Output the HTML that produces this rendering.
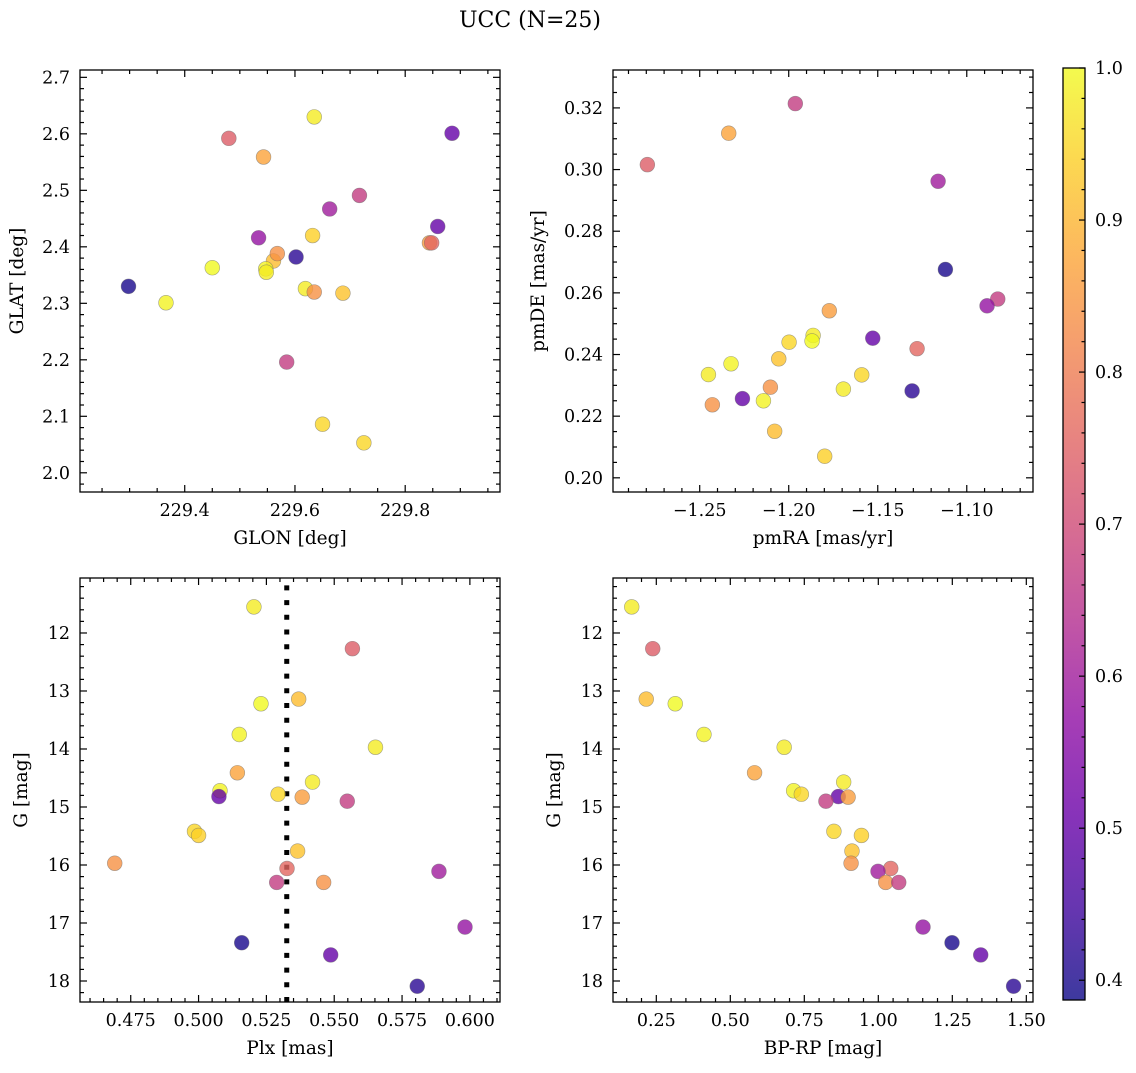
<!DOCTYPE html>
<html><head><meta charset="utf-8"><style>
html,body{margin:0;padding:0;background:#fff;}
svg text{font-family:"DejaVu Serif","Liberation Serif",serif;fill:#000;}
</style></head><body>
<svg id="fig" width="1136" height="1068" viewBox="0 0 1136 1068" xmlns="http://www.w3.org/2000/svg">
<defs>
<linearGradient id="cbgrad" x1="0" y1="1" x2="0" y2="0"></linearGradient>
</defs>
<text x="530" y="27" font-size="22" text-anchor="middle">UCC (N=25)</text>
</svg>
<script>
// ---- data (25 stars) ----
const prob = [0.98,0.74,0.91,1.0,0.99,0.98,0.87,0.98,0.99,0.95,0.50,0.86,0.67,0.95,0.94,0.92,0.84,0.76,0.60,0.84,0.67,0.58,0.40,0.50,0.42];
const gmag = [11.55,12.27,13.14,13.22,13.75,13.97,14.41,14.57,14.72,14.78,14.82,14.83,14.90,15.42,15.49,15.76,15.97,16.06,16.11,16.30,16.30,17.07,17.34,17.55,18.09];
const bprp = [0.167,0.238,0.216,0.314,0.411,0.682,0.582,0.883,0.714,0.740,0.865,0.898,0.823,0.850,0.943,0.911,0.908,1.042,0.999,1.025,1.069,1.151,1.249,1.346,1.457];
const plx  = [0.5204,0.5567,0.5369,0.5230,0.5150,0.5652,0.5143,0.5420,0.5079,0.5293,0.5075,0.5382,0.5548,0.4985,0.5000,0.5365,0.4691,0.5326,0.5886,0.5461,0.5288,0.5982,0.5159,0.5487,0.5806];
const glon = [229.635,229.480,229.561,229.450,229.547,229.548,229.543,229.619,229.366,229.650,229.859,229.844,229.717,229.725,229.632,229.687,229.568,229.848,229.663,229.635,229.585,229.534,229.298,229.885,229.602];
const glat = [2.630,2.592,2.375,2.363,2.361,2.355,2.559,2.326,2.301,2.086,2.436,2.407,2.491,2.053,2.420,2.318,2.388,2.407,2.467,2.320,2.196,2.416,2.330,2.601,2.382];
const pmra = [-1.1863,-1.2794,-1.2079,-1.1869,-1.2324,-1.2451,-1.2337,-1.1693,-1.2142,-1.1998,-1.1528,-1.1772,-1.1963,-1.1590,-1.1798,-1.2056,-1.2103,-1.1279,-1.1161,-1.2429,-1.0826,-1.0886,-1.1120,-1.2260,-1.1307];
const pmde = [0.2462,0.3016,0.2151,0.2444,0.2370,0.2335,0.3118,0.2288,0.2250,0.2440,0.2453,0.2542,0.3214,0.2334,0.2070,0.2386,0.2294,0.2419,0.2962,0.2237,0.2580,0.2558,0.2676,0.2257,0.2282];
const plxMedian = 0.5325;
const cbTicks = [0.4,0.5,0.6,0.7,0.8,0.9,1.0];
const vmin = 0.387, vmax = 1.0;

const plasma = ["#0d0887","#41049d","#6a00a8","#8f0da4","#b12a90","#cc4778","#e16462","#f2844b","#fca636","#fcce25","#f0f921"];
function hex2rgb(h){return [parseInt(h.substr(1,2),16),parseInt(h.substr(3,2),16),parseInt(h.substr(5,2),16)];}
function cmap(v){
  let t=(v-vmin)/(vmax-vmin); t=Math.max(0,Math.min(1,t));
  const p=t*10, i=Math.min(9,Math.floor(p)), f=p-i;
  const a=hex2rgb(plasma[i]), b=hex2rgb(plasma[i+1]);
  return "rgb("+a.map((c,k)=>Math.round(c+(b[k]-c)*f)).join(",")+")";
}
const NS="http://www.w3.org/2000/svg";
const svg=document.getElementById('fig');
function mk(tag,attrs,parent){const e=document.createElementNS(NS,tag);for(const k in attrs)e.setAttribute(k,attrs[k]);(parent||svg).appendChild(e);return e;}
function fmt(v,d){const s=Math.abs(v).toFixed(d);return (v<-1e-9?"\u2212":"")+s;}

function panel(cfg){
  const g=mk('g',{});
  
  
  const {L,T,W,H}=cfg;
  const sx=v=>L+(v-cfg.x0)/(cfg.x1-cfg.x0)*W;
  const sy=cfg.inv? (v=>T+(v-cfg.y0)/(cfg.y1-cfg.y0)*H) : (v=>T+H-(v-cfg.y0)/(cfg.y1-cfg.y0)*H);
  const tg=mk('g',{stroke:'#000','stroke-width':1.2},g);
  
  
  const xlo=Math.min(cfg.x0,cfg.x1), xhi=Math.max(cfg.x0,cfg.x1);
  for(let k=Math.ceil(xlo/cfg.xmin-1e-6);k*cfg.xmin<=xhi+1e-9;k++){
    const v=k*cfg.xmin, x=sx(v);
    const major=cfg.xt.some(t=>Math.abs(t-v)<cfg.xmin/10);
    const len=major?7:4;
    mk('line',{x1:x,y1:T+H,x2:x,y2:T+H-len},tg);
    mk('line',{x1:x,y1:T,x2:x,y2:T+len},tg);
  }
  const ylo=Math.min(cfg.y0,cfg.y1), yhi=Math.max(cfg.y0,cfg.y1);
  for(let k=Math.ceil(ylo/cfg.ymin-1e-6);k*cfg.ymin<=yhi+1e-9;k++){
    const v=k*cfg.ymin, y=sy(v);
    const major=cfg.yt.some(t=>Math.abs(t-v)<cfg.ymin/10);
    const len=major?7:4;
    mk('line',{x1:L,y1:y,x2:L+len,y2:y},tg);
    mk('line',{x1:L+W,y1:y,x2:L+W-len,y2:y},tg);
  }
  cfg.xt.forEach(v=>{const t=mk('text',{x:sx(v),y:T+H+24,'font-size':17.5,'text-anchor':'middle'},g);t.textContent=fmt(v,cfg.xd);
    
    });
  cfg.yt.forEach(v=>{const t=mk('text',{x:L-10,y:sy(v)+6,'font-size':17.5,'text-anchor':'end'},g);t.textContent=fmt(v,cfg.yd);
    
    });
  const xl=mk('text',{x:L+W/2,y:T+H+52,'font-size':18.5,'text-anchor':'middle'},g);xl.textContent=cfg.xlabel;
  
  
  const yx=cfg.ylx;
  const yl=mk('text',{x:yx,y:T+H/2,'font-size':18.5,'text-anchor':'middle',transform:`rotate(-90 ${yx} ${T+H/2})`},g);yl.textContent=cfg.ylabel;
  
  
  const cid='clip-'+cfg.name;
  const cp=mk('clipPath',{id:cid},g);mk('rect',{x:L,y:T,width:W,height:H},cp);
  const pg=mk('g',{'clip-path':`url(#${cid})`},g);
  if(cfg.vline!==undefined){
    const ln=mk('line',{x1:sx(cfg.vline),x2:sx(cfg.vline),y1:T+H,y2:T,stroke:'#000','stroke-width':5,'stroke-dasharray':'5 9.7'},pg);
    
    
  }
  cfg.xs.forEach((_,i)=>{
    const c=mk('circle',{cx:sx(cfg.xs[i]),cy:sy(cfg.ys[i]),r:7.4,fill:cmap(prob[i]),'fill-opacity':0.8,stroke:'#6b6b6b','stroke-opacity':0.6,'stroke-width':0.6},pg);
    
    
  });
  const fr=mk('rect',{x:L,y:T,width:W,height:H,fill:'none',stroke:'#000','stroke-width':1.3},g);
  
  
}

panel({name:'glon-glat-panel',L:80,T:70,W:420,H:422,x0:229.210,x1:229.972,y0:1.966,y1:2.713,
  xt:[229.4,229.6,229.8],xmin:0.05,xd:1,yt:[2.0,2.1,2.2,2.3,2.4,2.5,2.6,2.7],ymin:0.02,yd:1,
  xs:glon,ys:glat,xlabel:'GLON [deg]',ylabel:'GLAT [deg]',ylx:23});
panel({name:'pm-panel',L:613,T:70,W:420,H:422,x0:-1.2987,x1:-1.0628,y0:0.1954,y1:0.3323,
  xt:[-1.25,-1.20,-1.15,-1.10],xmin:0.01,xd:2,yt:[0.20,0.22,0.24,0.26,0.28,0.30,0.32],ymin:0.005,yd:2,
  xs:pmra,ys:pmde,xlabel:'pmRA [mas/yr]',ylabel:'pmDE [mas/yr]',ylx:544});
panel({name:'plx-g-panel',L:80,T:578,W:420,H:424,x0:0.4563,x1:0.6111,y0:11.052,y1:18.362,inv:true,
  xt:[0.475,0.500,0.525,0.550,0.575,0.600],xmin:0.005,xd:3,yt:[12,13,14,15,16,17,18],ymin:0.2,yd:0,
  xs:plx,ys:gmag,xlabel:'Plx [mas]',ylabel:'G [mag]',ylx:27,vline:plxMedian});
panel({name:'cmd-panel',L:613,T:578,W:420,H:424,x0:0.1037,x1:1.5226,y0:11.052,y1:18.362,inv:true,
  xt:[0.25,0.50,0.75,1.00,1.25,1.50],xmin:0.05,xd:2,yt:[12,13,14,15,16,17,18],ymin:0.2,yd:0,
  xs:bprp,ys:gmag,xlabel:'BP-RP [mag]',ylabel:'G [mag]',ylx:560});

const grad=document.getElementById('cbgrad');
for(let k=0;k<=10;k++){mk('stop',{offset:k/10,'stop-color':plasma[k]},grad);}
const cb=mk('g',{});


const CL=1063,CT=68,CW=22,CH=932;
mk('rect',{x:CL,y:CT,width:CW,height:CH,fill:'url(#cbgrad)','fill-opacity':0.8},cb);
const cy=v=>CT+CH-(v-vmin)/(vmax-vmin)*CH;
for(let k=Math.ceil(vmin/0.02);k*0.02<=vmax+1e-9;k++){
  const v=k*0.02,y=cy(v);const major=cbTicks.some(t=>Math.abs(t-v)<0.002);
  mk('line',{x1:CL+CW,x2:CL+CW-(major?6:3.5),y1:y,y2:y,stroke:'#000','stroke-width':1.2},cb);
}
cbTicks.forEach(v=>{const t=mk('text',{x:CL+CW+10,y:cy(v)+6,'font-size':17.5},cb);t.textContent=v.toFixed(1);
  
  });
mk('rect',{x:CL,y:CT,width:CW,height:CH,fill:'none',stroke:'#000','stroke-width':1.3},cb);
</script>
</body></html>
